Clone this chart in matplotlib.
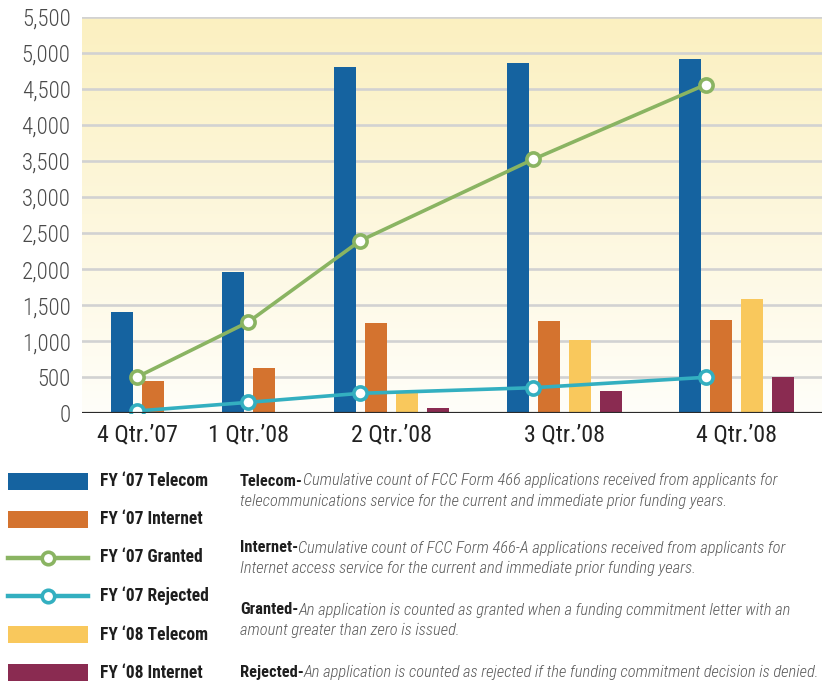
import numpy as np
import matplotlib
matplotlib.use("Agg")
import matplotlib.pyplot as plt
from matplotlib import font_manager
from matplotlib.font_manager import FontProperties
from matplotlib.patches import Rectangle
from matplotlib.lines import Line2D

# ---- data -------------------------------------------------------------
quarters = ["4 Qtr.\u201907", "1 Qtr.\u201908", "2 Qtr.\u201908", "3 Qtr.\u201908", "4 Qtr.\u201908"]
fy07_telecom = [1405, 1960, 4800, 4860, 4915]
fy07_internet = [448, 628, 1252, 1280, 1294]
fy07_granted = [505, 1266, 2394, 3523, 4558]
fy07_rejected = [32, 152, 277, 355, 499]
fy08_telecom = [np.nan, np.nan, 280, 1017, 1585]
fy08_internet = [np.nan, np.nan, 70, 309, 503]

y_ticks = [0, 500, 1000, 1500, 2000, 2500, 3000, 3500, 4000, 4500, 5000, 5500]

legend_labels = ["FY \u201807 Telecom", "FY \u201807 Internet", "FY \u201807 Granted",
                 "FY \u201807 Rejected", "FY \u201808 Telecom", "FY \u201808 Internet"]
notes = [
    ("Telecom-", ["Cumulative count of FCC Form 466 applications received from applicants for",
                  "telecommunications service for the current and immediate prior funding years."]),
    ("Internet-", ["Cumulative count of FCC Form 466-A applications received from applicants for",
                   "Internet access service for the current and immediate prior funding years."]),
    ("Granted-", ["An application is counted as granted when a funding commitment letter with an",
                  "amount greater than zero is issued."]),
    ("Rejected-", ["An application is counted as rejected if the funding commitment decision is denied."]),
]

# ---- style ------------------------------------------------------------
BLUE = "#1563A0"
ORANGE = "#D4732F"
GREEN = "#8AB462"
TEAL = "#33AFC0"
YELLOW = "#F9C85C"
PURPLE = "#8A2B51"

available = {f.name for f in font_manager.fontManager.ttflist}
FONT = next((n for n in ["Roboto Condensed", "Archivo Narrow", "Barlow Semi Condensed",
                         "Liberation Sans Narrow", "Liberation Sans"] if n in available), "DejaVu Sans")
FAM = [FONT, "DejaVu Sans"]

W, H = 824, 686
fig = plt.figure(figsize=(W / 100, H / 100), dpi=100)
renderer = fig.canvas.get_renderer()


def text_width(text, **kw):
    prop = FontProperties(family=FAM, size=10, **kw)
    return renderer.get_text_width_height_descent(text, prop, ismath=False)[0]


def fit_size(text, width_px, **kw):
    """Font size (pt) at which `text` spans `width_px` pixels."""
    return 10 * width_px / text_width(text, **kw)


ax_l, ax_r, ax_t, ax_b = 81.7, 821.7, 16.7, 413.3
ax = fig.add_axes([ax_l / W, 1 - ax_b / H, (ax_r - ax_l) / W, (ax_b - ax_t) / H])

# layout of the quarter groups (slot units; one slot = one bar pitch)
group_start = np.array([1.294, 4.874, 8.487, 14.068, 19.623])
bar_w = 0.70
x_max = 23.87
y_max = 5500

# soft yellow-to-white background
grad = np.linspace(0, 1, 256)[:, None]
top_c = np.array([251, 240, 192]) / 255
bot_c = np.array([255, 254, 249]) / 255
img = top_c[None, None, :] * (1 - grad[..., None]) + bot_c[None, None, :] * grad[..., None]
img = np.repeat(img, 2, axis=1)
ax.imshow(img, extent=(0, x_max, 0, y_max), aspect="auto", zorder=0, origin="upper")

for yv in y_ticks[1:]:
    ax.axhline(yv, color="#D2D2D2", lw=1.9, zorder=1)

bar_series = [(fy07_telecom, BLUE), (fy07_internet, ORANGE), (fy08_telecom, YELLOW), (fy08_internet, PURPLE)]
for k, (vals, col) in enumerate(bar_series):
    ax.bar(group_start + k, vals, width=bar_w, color=col, zorder=2, linewidth=0)

line_x = group_start + 0.5
marker_kw = dict(marker="o", markersize=9.5, markerfacecolor="white", markeredgewidth=2.6, lw=2.6, zorder=4)
ax.plot(line_x, fy07_granted, color=GREEN, markeredgecolor=GREEN, **marker_kw)
ax.plot(line_x, fy07_rejected, color=TEAL, markeredgecolor=TEAL, **marker_kw)

ax.axhline(0, color="#2A2A2A", lw=2.3, zorder=5)

ax.set_xlim(0, x_max)
ax.set_ylim(0, y_max)
for s in ax.spines.values():
    s.set_visible(False)

ytick_size = min(fit_size("5,500", 49, weight="light"), 17)
ax.set_yticks(y_ticks)
ax.set_yticklabels([f"{v:,}" for v in y_ticks], family=FAM, fontsize=ytick_size,
                   fontweight="light", color="#4A4A4A")

xtick_size = min(fit_size(quarters[0], 80), 20)
n_present = np.array([sum(not np.isnan(v[i]) for v, _ in bar_series) for i in range(len(quarters))])
ax.set_xticks(group_start + (n_present - 1) / 2)
ax.set_xticklabels(quarters, family=FAM, fontsize=xtick_size, color="#222222")
ax.tick_params(axis="both", length=0)
ax.tick_params(axis="y", pad=8)
ax.tick_params(axis="x", pad=7)

# ---- legend and notes (pixel coordinates) ------------------------------
lax = fig.add_axes([0, 0, 1, 1], zorder=10)
lax.set_xlim(0, W)
lax.set_ylim(H, 0)
lax.axis("off")

leg_size = min(fit_size(legend_labels[0], 108, weight="bold"), 14)
row_y = [481, 519.5, 557.5, 596, 634.5, 672.5]
handles = [("bar", BLUE), ("bar", ORANGE), ("line", GREEN), ("line", TEAL), ("bar", YELLOW), ("bar", PURPLE)]
for (kind, col), yy, lab in zip(handles, row_y, legend_labels):
    if kind == "bar":
        lax.add_patch(Rectangle((8, yy - 8.5), 80, 17, color=col, lw=0))
    else:
        lax.add_line(Line2D([8, 88], [yy, yy], color=col, lw=3.2))
        lax.add_line(Line2D([48], [yy], marker="o", markersize=9, markerfacecolor="white",
                            markeredgecolor=col, markeredgewidth=2.6))
    lax.text(100, yy, lab, family=FAM, fontweight="bold", fontsize=leg_size, color="#1E1E1E",
             va="center", ha="left")

# size the notes so the longest first line runs from x=240 to x=820
widest = max(text_width(head, weight="bold") + text_width(lines[0], style="italic", weight="light")
             for head, lines in notes)
note_size = min(10 * 579 / widest, 13)

note_y = [481, 548, 610, 672]
for (head, lines), yy in zip(notes, note_y):
    t = lax.text(240, yy, head, family=FAM, fontweight="bold", fontsize=note_size, color="#1E1E1E",
                 va="center", ha="left")
    lax.annotate(lines[0], xy=(1, 0), xycoords=t, va="bottom", ha="left", family=FAM,
                 style="italic", fontweight="light", fontsize=note_size, color="#5A5A5A")
    if len(lines) > 1:
        lax.text(240, yy + 20.5, lines[1], family=FAM, style="italic", fontweight="light",
                 fontsize=note_size, color="#5A5A5A", va="center", ha="left")

fig.savefig("out.png", dpi=100)
